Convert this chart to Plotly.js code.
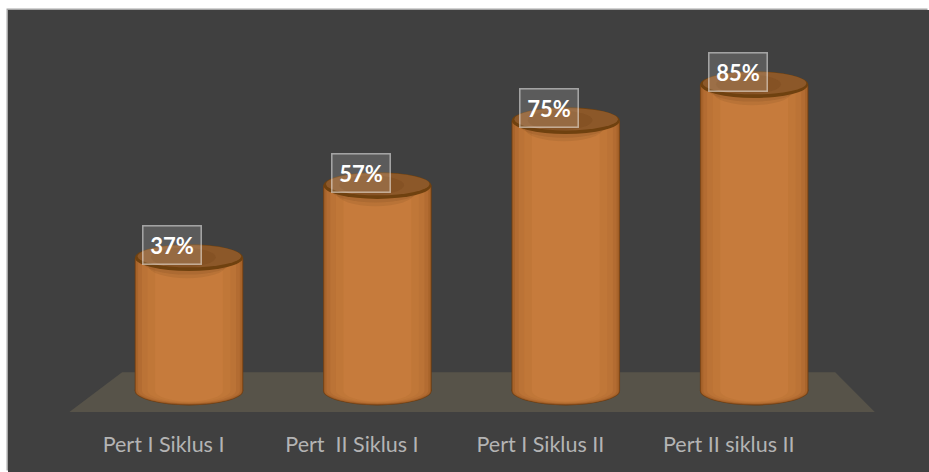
<!DOCTYPE html>
<html><head><meta charset="utf-8">
<script src="https://cdn.plot.ly/plotly-3.0.1.min.js"></script>
<style>
html,body{margin:0;padding:0;background:#fff;width:929px;height:472px;overflow:hidden}
#chart{position:absolute;left:8px;top:10px;width:921px;height:462px;box-shadow:-1.5px -1.5px 0 #a6a6a6}
</style></head><body><div id="chart"></div>
<script>
const categories = ["Pert I Siklus I", "Pert\u00a0\u00a0II Siklus I", "Pert I Siklus II", "Pert II siklus II"];
const values = [37, 57, 75, 85];
const labels = ["37%", "57%", "75%", "85%"];
const floorX = [-0.635, 3.64, 3.43, -0.355];
const floorY = [-5.8, -5.8, 5.2, 5.2];
const positions = categories.map((c, i) => i);
const tickOffset = -0.135;
const bodyLayers = [[0.576, "#6b3d12"], [0.570, "#8f5220"], [0.562, "#a8642b"], [0.54, "#b36c32"], [0.50, "#bb7336"], [0.44, "#c07738"], [0.36, "#c67b3c"]];
const RX = 0.2866, RY = 3.7;

function ellipse(cx, cy, rx, ry, fill, layer) {
  return {type: "circle", xref: "x", yref: "y", x0: cx - rx, x1: cx + rx, y0: cy - ry, y1: cy + ry,
    fillcolor: fill, line: {width: 0}, layer: layer};
}
const traces = bodyLayers.map(([w, col]) => ({
  type: "bar", x: positions, y: values, width: w, marker: {color: col, line: {width: 0}},
  hoverinfo: "skip", showlegend: false
}));

const shapes = [{type: "path", xref: "x", yref: "y", layer: "below",
  path: "M" + floorX.map((x, i) => x + "," + floorY[i]).join("L") + "Z",
  fillcolor: "#575349", line: {width: 0}}];
positions.forEach((p, i) => {
  const v = values[i];
  bodyLayers.forEach(([w, col], k) => {
    shapes.push(ellipse(p, 0.1, w / 2, 4.1 - k * 0.18, col, "below"));
  });
  shapes.push(ellipse(p - 0.01, v - 2.2, RX * 0.72, RY * 0.95, "rgba(120,72,28,0.16)", "above"));
  shapes.push(ellipse(p - 0.01, v - 1.2, RX * 0.82, RY * 0.95, "rgba(120,72,28,0.2)", "above"));
  shapes.push(ellipse(p, v, RX, RY, "#6f410f", "above"));
  shapes.push(ellipse(p + 0.002, v + 0.4, RX - 0.012, RY - 0.6, "#8c5829", "above"));
  shapes.push(ellipse(p - 0.03, v + 0.1, RX * 0.6, RY * 0.72, "rgba(110,64,24,0.25)", "above"));
});
const annotations = positions.map((p, i) => ({
  x: p, y: values[i], xref: "x", yref: "y", text: "<b>" + labels[i] + "</b>", showarrow: false,
  xshift: -16.5, yshift: 12.5, width: 57, height: 37,
  bgcolor: "rgba(255,255,255,0.14)", bordercolor: "rgba(255,255,255,0.5)", borderwidth: 1.5, borderpad: 0,
  font: {family: "Lato, Carlito, sans-serif", size: 22, color: "#ffffff"}
}));
Plotly.newPlot("chart", traces, {
  width: 921, height: 462, margin: {l: 0, r: 0, t: 0, b: 57, pad: 0},
  paper_bgcolor: "#404040", plot_bgcolor: "rgba(0,0,0,0)",
  barmode: "overlay", showlegend: false, hovermode: false,
  font: {family: "Lato, Carlito, sans-serif"},
  xaxis: {range: [-0.9607, 3.928], tickmode: "array", tickvals: positions.map(p => p + tickOffset), ticktext: categories,
    showgrid: false, zeroline: false, showline: false, ticks: "outside", ticklen: 10, tickcolor: "rgba(0,0,0,0)",
    tickfont: {size: 21.5, color: "#b4b4b4"}},
  yaxis: {range: [-6.66, 105.7], visible: false, showgrid: false, zeroline: false},
  shapes: shapes, annotations: annotations
}, {displayModeBar: false, staticPlot: true});
</script></body></html>
